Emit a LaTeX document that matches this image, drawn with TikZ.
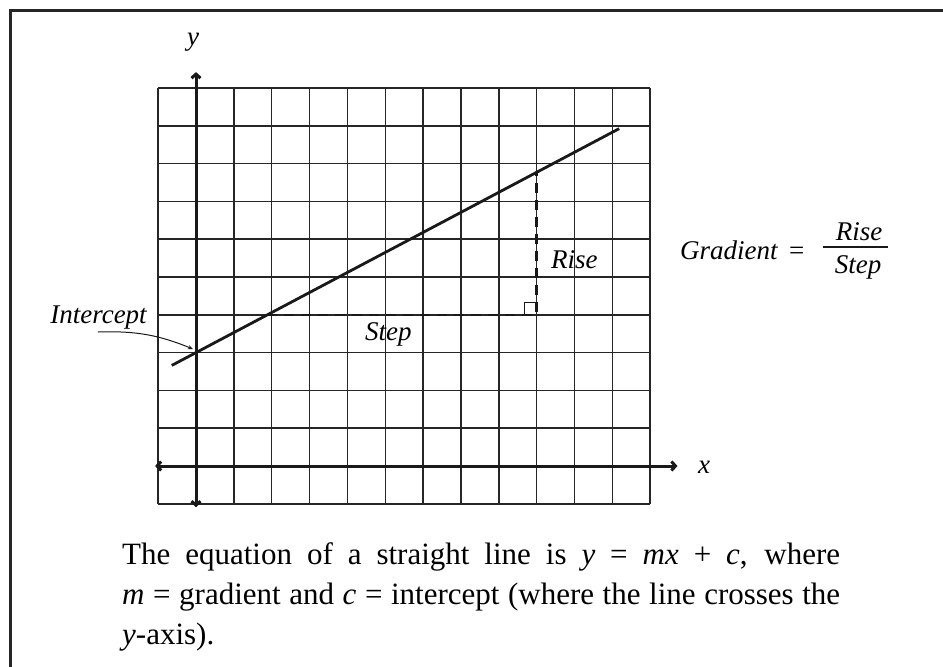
\documentclass[tikz,border=0pt]{standalone}
\usepackage{fontspec}
\setmainfont{Liberation Serif}
\usetikzlibrary{arrows.meta}
\begin{document}
\begin{tikzpicture}[x=1pt,y=-1pt,
  gridline/.style={line width=1.5pt, black!85},
  axis/.style={line width=3pt, black!90, {Straight Barb[length=4pt,width=9pt]}-{Straight Barb[length=4pt,width=9pt]}},
  graphline/.style={line width=2.8pt, black!90},
  guide/.style={line width=2.5pt, black!90, dash pattern=on 10pt off 7pt},
  lbl/.style={font=\fontsize{27}{32}\selectfont\itshape, inner sep=0pt},
  upr/.style={font=\fontsize{27}{32}\selectfont, inner sep=0pt},
  frameline/.style={line width=3pt, black!85}]
\useasboundingbox (0,0) rectangle (943,667);
\coordinate (F1) at (10,667);
\coordinate (F2) at (10,10);
\coordinate (F3) at (943,10);
\draw[frameline] (F1) -- (F2) -- (F3);
\begin{scope}[xshift=196pt,yshift=-466pt,x=37.85pt,y=37.8pt]
  \foreach \i in {-1,...,12} \draw[gridline] (\i,-1) -- (\i,10);
  \foreach \j in {-1,...,10} \draw[gridline] (-1,\j) -- (12,\j);
  \coordinate (yb) at (0,-1.09);
  \coordinate (yt) at (0,10.42);
  \coordinate (xl) at (-1.08,0);
  \coordinate (xr) at (12.72,0);
  \draw[axis] (yb) -- (yt);
  \draw[axis] (xl) -- (xr);
  \coordinate (L1) at (-0.64,2.661);
  \coordinate (L2) at (11.18,8.925);
  \draw[graphline] (L1) -- (L2);
  \coordinate (P) at (1.887,4);
  \coordinate (Q) at (9,4);
  \coordinate (R) at (9,7.77);
  \draw[guide] (P) -- (Q) -- (R);
  \draw[line width=1.3pt, black!90] ([xshift=-12pt]Q) -- ([xshift=-12pt,yshift=12pt]Q) -- ([yshift=12pt]Q);
  \coordinate (IA) at (-2.59,3.545);
  \coordinate (I0) at (-0.08,3.095);
  \draw[line width=1pt, black!90, -{Stealth[length=5pt,width=4pt]}] (IA) to[bend left=12] (I0);
\end{scope}
\node[lbl, anchor=base] (ylab) at (193,45) {y};
\node[lbl, anchor=base west] (xlab) at (698,473) {x};
\node[lbl, anchor=base west] (rise) at (551,268) {Rise};
\node[lbl, anchor=base west] (step) at (365,340) {Step};
\node[lbl, anchor=base] (icpt) at (98.5,323) {Intercept};
\node[lbl, anchor=base west] (grad) at (680,259) {Gradient};
\node[upr, anchor=base west] (eq) at (789,259) {=};
\node[lbl, anchor=base] (num) at (859,240) {Rise};
\node[lbl, anchor=base] (den) at (858,273) {Step};
\coordinate (b1) at (823,247);
\coordinate (b2) at (888,247);
\draw[line width=1.6pt, black!90] (b1) -- (b2);
\node[anchor=base west, inner sep=0pt, text width=718pt, align=justify, font=\fontsize{31}{40}\selectfont] (body) at (122,564)
 {The equation of a straight line is \textit{y} = \textit{mx} + \textit{c}, where\linebreak \textit{m} = gradient and \textit{c} = intercept (where the line crosses the\linebreak \textit{y}-axis).};
\end{tikzpicture}
\end{document}
